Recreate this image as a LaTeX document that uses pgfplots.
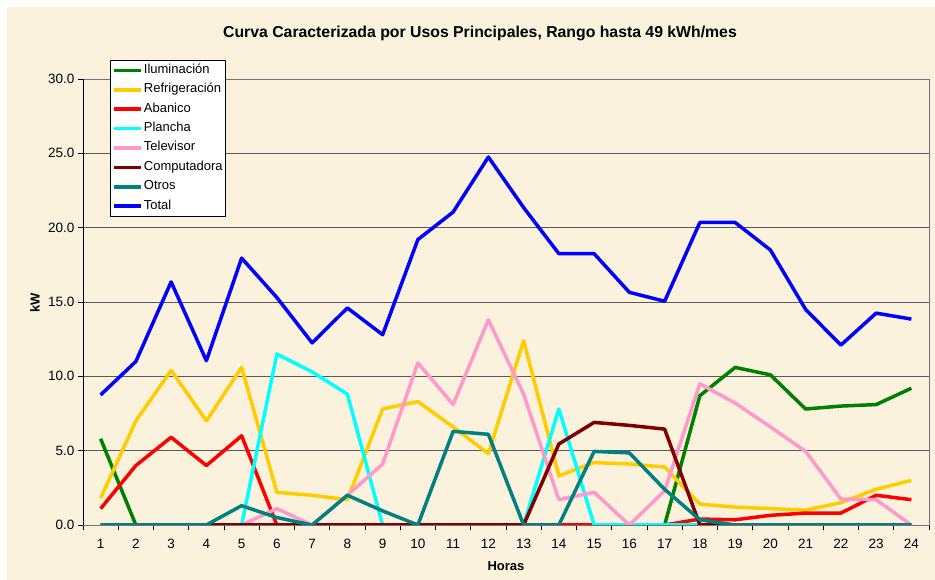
\documentclass[border=0pt]{standalone}
\usepackage{fontspec}
\setmainfont{Liberation Sans}
\usepackage{pgfplots}
\pgfplotsset{compat=1.18}
\definecolor{bg}{RGB}{251,242,222}
\definecolor{cIlu}{RGB}{0,128,0}
\definecolor{cRef}{RGB}{255,204,0}
\definecolor{cAba}{RGB}{255,0,0}
\definecolor{cPla}{RGB}{0,255,255}
\definecolor{cTel}{RGB}{255,153,204}
\definecolor{cCom}{RGB}{128,0,0}
\definecolor{cOtr}{RGB}{0,128,128}
\definecolor{cTot}{RGB}{0,0,255}
\begin{document}
\begin{tikzpicture}[x=1pt,y=1pt]
\path[use as bounding box, fill=white] (0,0) rectangle (935,580);
\fill[bg] (7,0) rectangle (935,573);
\node[font=\fontsize{15.8}{18}\selectfont\bfseries] at (480,547) {Curva Caracterizada por Usos Principales, Rango hasta 49 kWh/mes};
\node[font=\fontsize{13}{15}\selectfont\bfseries, rotate=90] at (35,277) {kW};
\node[font=\fontsize{13}{15}\selectfont\bfseries] at (506,14) {Horas};
\begin{axis}[
  at={(83pt,55pt)}, anchor=south west, scale only axis,
  width=846pt, height=446pt,
  xmin=0.5, xmax=24.5, ymin=0, ymax=30,
  ytick={0,5,...,30},
  xtick={0.5,1.5,...,24.5},
  xticklabels={},
  extra x ticks={1,2,...,24},
  extra x tick labels={1,2,3,4,5,6,7,8,9,10,11,12,13,14,15,16,17,18,19,20,21,22,23,24},
  extra x tick style={major tick length=0pt},
  tick align=outside, tick pos=left, major tick length=5pt,
  tick style={black, line width=0.8pt},
  ymajorgrids, major grid style={draw=black!65, line width=0.9pt},
  axis line style={draw=black!55, line width=0.9pt},
  /pgf/number format/assume math mode=true,
  yticklabel style={font=\fontsize{13.5}{15}\selectfont, /pgf/number format/.cd, fixed, fixed zerofill, precision=1},
  xticklabel style={font=\fontsize{13.5}{15}\selectfont, yshift=-10.5pt},
  no markers,
  every axis plot/.append style={line width=3.5pt, line join=round},
  legend cell align=left,
  legend style={at={(0.0319,1.0426)}, anchor=north west, draw=black, fill=white, line width=0.8pt,
    font=\fontsize{13}{15}\selectfont, inner xsep=2pt, inner ysep=3pt, row sep=5.4pt,
    nodes={inner sep=1pt, text height=9pt, text depth=3pt}},
  legend image code/.code={\draw[#1] (0pt,0pt) -- (27pt,0pt);},
]
\addplot[cIlu] coordinates {(1,5.8)(2,0)(3,0)(4,0)(5,0)(6,0)(7,0)(8,0)(9,0)(10,0)(11,0)(12,0)(13,0)(14,0)(15,0)(16,0)(17,0)(18,8.7)(19,10.6)(20,10.1)(21,7.8)(22,8.0)(23,8.1)(24,9.2)};
\addlegendentry{Iluminación}
\addplot[cRef] coordinates {(1,1.8)(2,7.0)(3,10.4)(4,7.0)(5,10.6)(6,2.2)(7,2.0)(8,1.7)(9,7.8)(10,8.3)(11,6.6)(12,4.8)(13,12.4)(14,3.3)(15,4.2)(16,4.1)(17,3.9)(18,1.4)(19,1.2)(20,1.1)(21,1.0)(22,1.5)(23,2.4)(24,3.0)};
\addlegendentry{Refrigeración}
\addplot[cAba] coordinates {(1,1.1)(2,4.0)(3,5.9)(4,4.0)(5,6.0)(6,0)(7,0)(8,0)(9,0)(10,0)(11,0)(12,0)(13,0)(14,0)(15,0)(16,0)(17,0)(18,0.4)(19,0.35)(20,0.65)(21,0.8)(22,0.8)(23,2.0)(24,1.7)};
\addlegendentry{Abanico}
\addplot[cPla] coordinates {(1,0)(2,0)(3,0)(4,0)(5,0)(6,11.5)(7,10.3)(8,8.8)(9,0)(10,0)(11,0)(12,0)(13,0)(14,7.8)(15,0)(16,0)(17,0)(18,0)(19,0)(20,0)(21,0)(22,0)(23,0)(24,0)};
\addlegendentry{Plancha}
\addplot[cTel] coordinates {(1,0)(2,0)(3,0)(4,0)(5,0)(6,1.1)(7,0)(8,2.0)(9,4.1)(10,10.9)(11,8.1)(12,13.8)(13,8.8)(14,1.7)(15,2.2)(16,0)(17,2.3)(18,9.5)(19,8.2)(20,6.6)(21,4.95)(22,1.75)(23,1.7)(24,0)};
\addlegendentry{Televisor}
\addplot[cCom] coordinates {(1,0)(2,0)(3,0)(4,0)(5,0)(6,0)(7,0)(8,0)(9,0)(10,0)(11,0)(12,0)(13,0)(14,5.45)(15,6.9)(16,6.7)(17,6.45)(18,0)(19,0)(20,0)(21,0)(22,0)(23,0)(24,0)};
\addlegendentry{Computadora}
\addplot[cOtr] coordinates {(1,0)(2,0)(3,0)(4,0)(5,1.3)(6,0.5)(7,0)(8,2.0)(9,0.95)(10,0)(11,6.3)(12,6.1)(13,0)(14,0)(15,4.95)(16,4.85)(17,2.4)(18,0.35)(19,0)(20,0)(21,0)(22,0)(23,0)(24,0)};
\addlegendentry{Otros}
\addplot[cTot] coordinates {(1,8.75)(2,11.0)(3,16.35)(4,11.05)(5,17.95)(6,15.3)(7,12.25)(8,14.6)(9,12.8)(10,19.2)(11,21.05)(12,24.75)(13,21.35)(14,18.25)(15,18.25)(16,15.65)(17,15.05)(18,20.35)(19,20.35)(20,18.5)(21,14.5)(22,12.1)(23,14.25)(24,13.85)};
\addlegendentry{Total}
\draw[black, line width=0.9pt] (rel axis cs:0,1) -- (rel axis cs:0,0) -- (rel axis cs:1,0);
\end{axis}
\end{tikzpicture}
\end{document}
